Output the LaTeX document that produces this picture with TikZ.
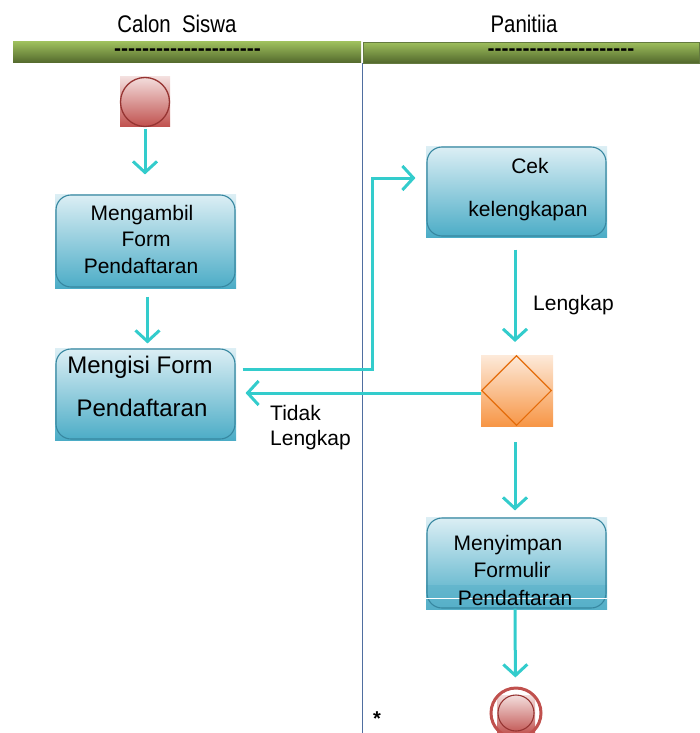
\documentclass[tikz,border=0pt]{standalone}
\usepackage{fontspec}
\setmainfont{Liberation Sans}
\usetikzlibrary{arrows.meta,calc,shapes.geometric,backgrounds}

\definecolor{flowc}{RGB}{51,204,204}
\definecolor{boxtop}{RGB}{221,239,245}
\definecolor{boxbot}{RGB}{75,172,198}
\definecolor{boxedge}{RGB}{55,135,160}
\definecolor{barTop}{RGB}{157,190,92}
\definecolor{barBot}{RGB}{82,104,44}
\definecolor{barEdge}{RGB}{100,122,64}
\definecolor{laneblue}{RGB}{79,110,160}
\definecolor{orgTop}{RGB}{253,234,218}
\definecolor{orgBot}{RGB}{247,150,70}
\definecolor{orgEdge}{RGB}{228,108,10}
\definecolor{redTop}{RGB}{243,222,221}
\definecolor{redBot}{RGB}{192,80,77}
\definecolor{redEdge}{RGB}{150,52,50}
\definecolor{bandc}{RGB}{92,178,202}

\newcommand\hy{-\kern0pt}
\newcommand\hyfive{\hy\hy\hy\hy\hy}
\newcommand\hyrun{\hyfive\hyfive\hyfive\hyfive\hy}

\begin{document}
\begin{tikzpicture}[x=1pt,y=-1pt,
  txt/.style={inner sep=0pt, anchor=base, font=\fontsize{21}{25}\selectfont},
  bigtxt/.style={inner sep=0pt, anchor=base, font=\fontsize{24}{28}\selectfont},
  lanetitle/.style={inner sep=0pt, anchor=base, font=\fontsize{24}{28}\selectfont},
  dashtext/.style={inner sep=0pt, anchor=base, font=\fontsize{21}{25}\selectfont\bfseries},
  actbox/.style={rectangle, rounded corners=15pt, draw=boxedge, line width=1.1pt, inner sep=0pt},
  decision/.style={diamond, draw=orgEdge, line width=1.1pt, inner sep=0pt,
    minimum width=70pt, minimum height=70pt},
  flow/.style={draw=flowc, line width=3pt,
    -{Straight Barb[length=11pt,width=24pt]}},
]
\useasboundingbox (0,0) rectangle (699,733);

% swimlane headers
\shade[top color=barTop, bottom color=barBot] (13,42) rectangle (361,63);
\shade[top color=barTop, bottom color=barBot, draw=barEdge, line width=0.8pt] (363.4,42.4) rectangle (699,63);
\node[lanetitle] (laneA) at (177,32.5) {\scalebox{0.85}[1]{Calon\ \ Siswa}};
\node[lanetitle] (laneB) at (524,32.5) {\scalebox{0.85}[1]{Panitiia}};
\node[dashtext] (dashA) at (187.5,55.5) {\hyrun};
\node[dashtext] (dashB) at (561,55.5) {\hyrun};

% lane separator
\draw[laneblue, line width=1.5pt] (362.7,63) -- (362.7,733);

% start node
\shade[top color=redTop, bottom color=redBot] (120,77) rectangle (170,127);
\node[circle, draw=redEdge, line width=1.3pt, minimum size=49pt, inner sep=0pt] (start) at (145,102) {};

% activity boxes (shaded square backgrounds, rounded outlines)
\shade[top color=boxtop, bottom color=boxbot] (55,194) rectangle (236,288);
\node[actbox, minimum width=179pt, minimum height=92pt] (ambil) at (145.5,241) {};
\shade[top color=boxtop, bottom color=boxbot] (55,348) rectangle (236,440);
\node[actbox, minimum width=179pt, minimum height=90pt] (isi) at (145.5,394) {};
\shade[top color=boxtop, bottom color=boxbot] (426,146) rectangle (607,237);
\node[actbox, minimum width=179pt, minimum height=89pt] (cek) at (516.5,191.5) {};
\shade[top color=boxtop, bottom color=boxbot] (426,517) rectangle (607,609);
\fill[bandc, opacity=0.6] (426,585) rectangle (607,610);
\node[actbox, minimum width=179pt, minimum height=90pt] (simpan) at (516.5,563) {};
\draw[white, line width=1.6pt] (426,598.5) -- (607,598.5);

% decision
\shade[top color=orgTop, bottom color=orgBot] (481,355) rectangle (553,426);
\node[decision] (dec) at (516.5,390.5) {};

% final node
\shade[top color=redTop, bottom color=redBot] (497,695) rectangle (535,735);
\node[circle, draw=redEdge, line width=1.1pt, minimum size=36pt, inner sep=0pt] (finish) at (516,713) {};
\draw[redBot, line width=3pt] (finish.center) circle (25);

% texts
\node[txt] (ambil1) at (142,220) {Mengambil};
\node[txt] (ambil2) at (146,246.7) {Form};
\node[txt] (ambil3) at (141,273.3) {Pendaftaran};
\node[bigtxt] (isi1) at (140,373.3) {Mengisi Form};
\node[bigtxt] (isi2) at (142,416.7) {Pendaftaran};
\node[txt] (cek1) at (530,173.3) {Cek};
\node[txt] (cek2) at (528,216) {kelengkapan};
\node[txt] (simpan1) at (508,550) {Menyimpan};
\node[txt] (simpan2) at (512,577.7) {Formulir};
\node[txt] (simpan3) at (515,605) {Pendaftaran};
\node[txt, anchor=base west] (lengkap) at (533,310) {Lengkap};
\node[txt, anchor=base west] (tidak1) at (270,420) {Tidak};
\node[txt, anchor=base west] (tidak2) at (270,445) {Lengkap};
\node[inner sep=0pt, font=\fontsize{20}{22}\selectfont\bfseries] (star) at (377,719) {*};

% control flow
\draw[flow, shorten <=1.5pt, shorten >=20pt] (start) -- (start |- ambil.north);
\draw[flow, shorten <=9pt, shorten >=5pt] ($(ambil.south)+(2,0)$) -- ($(isi.north)+(2,0)$);
\coordinate (bend) at (372,369);
\draw[flow, shorten >=11pt] ($(isi.east |- bend)+(7,0)$) -- (bend) |- ($(cek.west)+(0,-13.5)$);
\draw[flow, shorten <=13pt, shorten >=13pt] ($(cek.south)+(-1.5,0)$) -- ($(dec.north)+(-1.5,0)$);
\draw[flow, shorten >=10pt] ($(dec.west)+(0,2.5)$) -- ($(isi.east |- dec.west)+(0,2.5)$);
\draw[flow, shorten <=16pt, shorten >=7pt] ($(dec.south)+(-1.5,0)$) -- ($(simpan.north)+(-1.5,0)$);
\draw[flow, shorten >=17pt] ($(simpan.south)+(-1.5,0)$) -- ($(finish.north)+(-0.5,0)$);
\end{tikzpicture}
\end{document}
